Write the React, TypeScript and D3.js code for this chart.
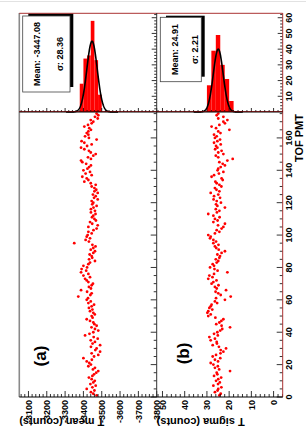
import React, { useEffect, useRef } from "react";
import * as d3 from "d3";

// T mean (counts) for TOF PMT 1..175
const tMean: number[] = [
  -3472, -3454, -3441, -3460, -3418, -3449, -3467, -3438, -3454, -3462,
  -3445, -3430, -3449, -3458, -3470, -3481, -3452, -3463, -3427, -3441,
  -3432, -3418, -3446, -3400, -3458, -3481, -3445, -3491, -3465, -3472,
  -3441, -3491, -3450, -3463, -3440, -3478, -3456, -3409, -3433, -3454,
  -3481, -3463, -3444, -3472, -3460, -3454, -3436, -3418, -3450, -3445,
  -3462, -3454, -3436, -3449, -3430, -3445, -3458, -3427, -3440, -3418,
  -3425, -3372, -3438, -3445, -3420, -3387, -3441, -3430, -3445, -3452,
  -3427, -3418, -3409, -3436, -3400, -3427, -3387, -3415, -3390, -3420,
  -3400, -3427, -3436, -3463, -3431, -3448, -3445, -3434, -3454, -3463,
  -3440, -3454, -3466, -3449, -3350, -3430, -3412, -3436, -3418, -3423,
  -3445, -3427, -3455, -3472, -3427, -3478, -3448, -3436, -3468, -3460,
  -3447, -3454, -3466, -3441, -3463, -3441, -3455, -3472, -3448, -3454,
  -3445, -3478, -3458, -3467, -3452, -3478, -3460, -3470, -3460, -3445,
  -3467, -3440, -3405, -3427, -3418, -3394, -3445, -3412, -3436, -3400,
  -3422, -3431, -3441, -3415, -3394, -3387, -3441, -3425, -3454, -3467,
  -3440, -3430, -3405, -3387, -3420, -3445, -3405, -3390, -3472, -3430,
  -3409, -3427, -3418, -3427, -3441, -3432, -3405, -3425, -3445, -3454,
  -3440, -3478, -3463, -3481, -3472,
];

// T sigma (counts) for TOF PMT 1..175
const tSigma: number[] = [
  24.4, 23.8, 26.4, 25.2, 24.9, 23.5, 27.1, 25.0, 24.2, 25.9,
  24.9, 23.6, 26.8, 25.3, 25.6, 19.6, 24.5, 26.4, 25.1, 27.1,
  28.3, 25.0, 26.4, 24.0, 27.4, 25.9, 23.9, 22.6, 23.8, 21.4,
  24.6, 27.4, 25.5, 25.6, 28.3, 26.4, 28.9, 25.1, 26.8, 25.3,
  24.0, 23.1, 19.6, 23.4, 25.8, 24.4, 23.5, 22.6, 26.2, 29.4,
  28.3, 29.8, 29.4, 27.6, 28.9, 28.3, 27.9, 25.4, 26.4, 21.9,
  25.9, 19.3, 23.8, 24.9, 26.1, 21.4, 25.6, 26.4, 24.8, 27.9,
  27.1, 25.7, 29.4, 27.5, 28.9, 26.8, 20.8, 25.2, 26.6, 28.6,
  26.8, 27.4, 25.6, 24.9, 26.0, 24.4, 24.1, 25.3, 23.4, 21.9,
  24.7, 25.8, 26.4, 24.8, 27.1, 25.9, 27.1, 28.6, 28.3, 29.4,
  26.4, 24.4, 25.6, 23.4, 22.6, 25.0, 21.9, 27.1, 25.2, 26.4,
  24.3, 27.1, 29.4, 25.5, 24.4, 26.0, 21.9, 25.3, 25.9, 23.7,
  25.6, 27.0, 24.1, 26.8, 24.9, 28.3, 24.4, 25.7, 26.4, 23.5,
  24.4, 25.6, 26.2, 22.9, 23.4, 27.9, 26.8, 24.6, 22.6, 25.2,
  24.9, 23.8, 21.9, 22.9, 24.4, 20.8, 18.4, 24.9, 26.0, 22.6,
  24.9, 23.4, 26.3, 25.3, 25.9, 23.8, 26.8, 25.3, 24.1, 26.4,
  25.6, 26.8, 23.9, 24.9, 19.9, 25.9, 27.9, 24.4, 21.9, 22.6,
  20.8, 24.9, 22.6, 25.6, 24.9,
];

// projections: bin low edges and entries
const meanBinLo = [-3500, -3480, -3460, -3440, -3420, -3400];
const meanBinCounts = [11, 33, 58, 36, 34, 18];
const sigmaBinLo = [18, 20, 22, 24, 26, 28];
const sigmaBinCounts = [7, 21, 30, 49, 39, 17];

// gaussian fits
const meanFit = { mean: -3447.08, sigma: 28.36, peak: 45 };
const sigmaFit = { mean: 24.91, sigma: 2.21, peak: 40 };

const meanTicks = [-3100, -3200, -3300, -3400, -3500, -3600, -3700, -3800];
const sigmaTicks = [0, 10, 20, 30, 40, 50];
const pmtTicks = [0, 20, 40, 60, 80, 100, 120, 140, 160];
const countTicks = [10, 20, 30, 40, 50, 60];

const W = 306;
const H = 443;
const FONT = "'Liberation Sans', Arial, Helvetica, sans-serif";

const App: React.FC = () => {
  const ref = useRef<SVGSVGElement>(null);

  useEffect(() => {
    if (!ref.current) return;
    const svg = d3.select(ref.current);
    svg.selectAll("*").remove();

    svg.append("rect").attr("width", W).attr("height", H).attr("fill", "#fff");
    svg.append("line")
      .attr("x1", 0).attr("x2", W).attr("y1", 1.5).attr("y2", 1.5)
      .attr("stroke", "#e2e2e2");

    // the whole canvas is turned a quarter turn counter-clockwise
    const g = svg.append("g").attr("transform", `translate(0,${H}) rotate(-90)`);

    const pmtX = d3.scaleLinear().domain([0, 176]).range([46, 331]);
    const cntX = d3.scaleLinear().domain([0, 63]).range([331, 430]);
    const yA = d3.scaleLinear().domain([-3050, -3800]).range([19.3, 156.7]);
    const yB = d3.scaleLinear().domain([52.6, -4.1]).range([156.7, 282.7]);

    const panels = [
      {
        data: tMean, y: yA, binLo: meanBinLo, counts: meanBinCounts, bw: 20, fit: meanFit,
        ticks: meanTicks, minor: d3.range(-3800, -3050, 20), major: 100,
        tag: "(a)", tagX: 87, title: "T mean (counts)", top: 19.3, bottom: 156.7,
        stat: ["Mean: -3447.08", "\u03c3: 28.36"],
        box: { x0: 351, x1: 427, y0: 22.7, y1: 70 },
        shadow: { x0: 356, x1: 429.5, y0: 28.3, y1: 73.3 },
        textY: [40, 63.3],
      },
      {
        data: tSigma, y: yB, binLo: sigmaBinLo, counts: sigmaBinCounts, bw: 2, fit: sigmaFit,
        ticks: sigmaTicks, minor: d3.range(-4, 53, 2), major: 10,
        tag: "(b)", tagX: 89.5, title: "T sigma (counts)", top: 156.7, bottom: 282.7,
        stat: ["Mean: 24.91", "\u03c3: 2.21"],
        box: { x0: 361.3, x1: 425.7, y0: 160.3, y1: 201.3 },
        shadow: { x0: 366.3, x1: 427.3, y0: 166, y1: 204.7 },
        textY: [178, 198],
      },
    ];

    panels.forEach(p => {
      // projection bars
      g.append("g")
        .selectAll("rect")
        .data(p.binLo)
        .enter()
        .append("rect")
        .attr("x", cntX(0))
        .attr("y", (d: number) => p.y(d + p.bw))
        .attr("width", (_d: number, i: number) => cntX(p.counts[i]) - cntX(0))
        .attr("height", (d: number) => p.y(d) - p.y(d + p.bw))
        .attr("fill", "#ff0000");

      // gaussian fit
      const f = p.fit;
      const vals = d3.range(f.mean - 5 * f.sigma, f.mean + 5 * f.sigma, f.sigma / 25);
      const line = d3.line<number>()
        .x((v: number) => cntX(f.peak * Math.exp(-0.5 * ((v - f.mean) / f.sigma) ** 2)))
        .y((v: number) => p.y(v))
        .curve(d3.curveLinear);
      g.append("path")
        .attr("d", line(vals))
        .attr("fill", "none")
        .attr("stroke", "#000")
        .attr("stroke-width", 1.6);

      // stat box
      g.append("rect")
        .attr("x", p.shadow.x0).attr("y", p.shadow.y0)
        .attr("width", p.shadow.x1 - p.shadow.x0).attr("height", p.shadow.y1 - p.shadow.y0)
        .attr("fill", "#000");
      g.append("rect")
        .attr("x", p.box.x0).attr("y", p.box.y0)
        .attr("width", p.box.x1 - p.box.x0).attr("height", p.box.y1 - p.box.y0)
        .attr("fill", "#fff").attr("stroke", "#444").attr("stroke-width", 0.8);
      p.stat.forEach((s, i) => {
        g.append("text")
          .attr("x", (p.box.x0 + p.box.x1) / 2)
          .attr("y", p.textY[i])
          .attr("text-anchor", "middle")
          .style("font-family", FONT).style("font-weight", "bold").style("font-size", "9px")
          .text(s);
      });

      // scatter
      g.append("g")
        .selectAll("circle")
        .data(p.data)
        .enter()
        .append("circle")
        .attr("cx", (_d: number, i: number) => pmtX(i + 1))
        .attr("cy", (d: number) => p.y(d))
        .attr("r", 1.4)
        .attr("fill", "#ff0000");

      // value axis ticks (scatter axis + projection base)
      p.minor.forEach(v => {
        const big = Math.abs(v % p.major) < 1e-6;
        g.append("line")
          .attr("x1", 46).attr("x2", 46 + (big ? 6 : 3))
          .attr("y1", p.y(v)).attr("y2", p.y(v))
          .attr("stroke", "#000").attr("stroke-width", 0.8);
        g.append("line")
          .attr("x1", 331).attr("x2", 331 + (big ? 4 : 2))
          .attr("y1", p.y(v)).attr("y2", p.y(v))
          .attr("stroke", "#000").attr("stroke-width", 0.8);
      });

      g.append("g")
        .selectAll("text")
        .data(p.ticks)
        .enter()
        .append("text")
        .attr("x", 43)
        .attr("y", (d: number) => p.y(d))
        .attr("dy", "0.35em")
        .attr("text-anchor", "end")
        .style("font-family", FONT).style("font-weight", "bold").style("font-size", "9px")
        .text((d: number) => d);

      // axis title
      g.append("text")
        .attr("transform", `translate(25,${p.top}) rotate(-90)`)
        .attr("text-anchor", "end")
        .style("font-family", FONT).style("font-weight", "bold").style("font-size", "11px")
        .text(p.title);

      // panel tag
      g.append("text")
        .attr("x", p.tagX)
        .attr("y", (p.top === 19.3 ? 41.7 : 184.7) + 4.4)
        .attr("text-anchor", "middle")
        .style("font-family", FONT).style("font-weight", "bold").style("font-size", "17px")
        .text(p.tag);

      // PMT + count ticks along the lower edge of each pad
      d3.range(0, 176, 5).forEach(t => {
        const len = t % 20 === 0 ? 6 : 3;
        g.append("line")
          .attr("x1", pmtX(t)).attr("x2", pmtX(t))
          .attr("y1", p.bottom).attr("y2", p.bottom - len)
          .attr("stroke", "#000").attr("stroke-width", 0.8);
      });
      d3.range(2, 63, 2).forEach(c => {
        const len = c % 10 === 0 ? 5 : 2.5;
        g.append("line")
          .attr("x1", cntX(c)).attr("x2", cntX(c))
          .attr("y1", p.bottom).attr("y2", p.bottom - len)
          .attr("stroke", "#000").attr("stroke-width", 0.8);
      });
    });

    // frame
    const seg = (x1: number, y1: number, x2: number, y2: number, c: string, w: number) =>
      g.append("line").attr("x1", x1).attr("y1", y1).attr("x2", x2).attr("y2", y2)
        .attr("stroke", c).attr("stroke-width", w);
    seg(46, 19.3, 430, 19.3, "#8a8a8a", 1.6);
    seg(429.7, 19.3, 429.7, 282.7, "#a33", 1);
    seg(46, 282.7, 430, 282.7, "#a33", 1);
    seg(46, 156.7, 430, 156.7, "#333", 1);
    seg(331.5, 19.3, 331.5, 282.7, "#c00", 0.8);
    seg(331, 19.3, 331, 282.7, "#000", 1);
    seg(46, 19.3, 46, 282.7, "#000", 1);

    // PMT / count labels
    g.append("g")
      .selectAll("text")
      .data(pmtTicks)
      .enter()
      .append("text")
      .attr("x", (d: number) => pmtX(d))
      .attr("y", 291.5)
      .attr("text-anchor", "middle")
      .style("font-family", FONT).style("font-weight", "bold").style("font-size", "9px")
      .text((d: number) => d);
    g.append("g")
      .selectAll("text")
      .data(countTicks)
      .enter()
      .append("text")
      .attr("x", (d: number) => cntX(d))
      .attr("y", 291.5)
      .attr("text-anchor", "middle")
      .style("font-family", FONT).style("font-weight", "bold").style("font-size", "9px")
      .text((d: number) => d);

    g.append("text")
      .attr("x", 329)
      .attr("y", 303)
      .attr("text-anchor", "end")
      .style("font-family", FONT).style("font-weight", "bold").style("font-size", "11px")
      .text("TOF PMT");
  }, []);

  return (
    <svg
      ref={ref}
      width={W}
      height={H}
      style={{ position: "absolute", left: 0, top: 0, display: "block" }}
    />
  );
};

export default App;
